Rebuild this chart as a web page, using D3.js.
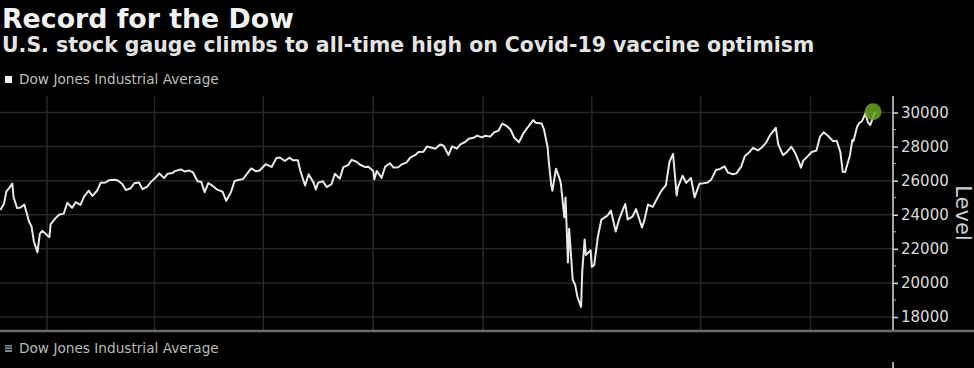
<!DOCTYPE html>
<html>
<head>
<meta charset="utf-8">
<script src="https://d3js.org/d3.v7.min.js"></script>
<style>
  html, body { margin: 0; padding: 0; background: #000; }
  svg { display: block; }
</style>
</head>
<body>
<div id="chart"></div>
<script>
// Chart texts
var titleText = "Record for the Dow";
var subtitleText = "U.S. stock gauge climbs to all-time high on Covid-19 vaccine optimism";
var seriesName = "Dow Jones Industrial Average";
var axisTitle = "Level";

// Y axis ticks
var yTicks = [18000, 20000, 22000, 24000, 26000, 28000, 30000];
var yMinorTicks = [19000, 21000, 23000, 25000, 27000, 29000];

// Vertical grid lines (quarter starts)
var quarterDates = ["2019-01-01", "2019-04-01", "2019-07-01", "2019-10-01",
                    "2020-01-01", "2020-04-01", "2020-07-01", "2020-10-01"];

// Dow Jones Industrial Average
var dates = [
  "2018-11-23","2018-11-26","2018-11-28","2018-11-30","2018-12-03","2018-12-04","2018-12-07","2018-12-10",
  "2018-12-13","2018-12-17","2018-12-19","2018-12-21","2018-12-24","2018-12-26","2018-12-28",
  "2019-01-03","2019-01-04","2019-01-08","2019-01-11","2019-01-15","2019-01-18","2019-01-22","2019-01-25",
  "2019-01-29","2019-02-01","2019-02-05","2019-02-08","2019-02-12","2019-02-15","2019-02-19","2019-02-22",
  "2019-02-26","2019-03-01","2019-03-05","2019-03-08","2019-03-12","2019-03-15","2019-03-19","2019-03-22",
  "2019-03-26","2019-03-29","2019-04-02","2019-04-05","2019-04-09","2019-04-12","2019-04-16","2019-04-18",
  "2019-04-23","2019-04-26","2019-04-30","2019-05-03","2019-05-07","2019-05-10","2019-05-13","2019-05-16",
  "2019-05-20","2019-05-23","2019-05-28","2019-05-31","2019-06-04","2019-06-07","2019-06-11","2019-06-14",
  "2019-06-18","2019-06-21","2019-06-25","2019-06-28","2019-07-03","2019-07-08","2019-07-12","2019-07-15",
  "2019-07-19","2019-07-23","2019-07-26","2019-07-30","2019-08-01","2019-08-05","2019-08-08","2019-08-12",
  "2019-08-14","2019-08-16","2019-08-20","2019-08-23","2019-08-27","2019-08-30","2019-09-03","2019-09-06",
  "2019-09-10","2019-09-13","2019-09-17","2019-09-20","2019-09-24","2019-09-27","2019-10-01","2019-10-02",
  "2019-10-04","2019-10-08","2019-10-11","2019-10-15","2019-10-18","2019-10-22","2019-10-25","2019-10-29",
  "2019-11-01","2019-11-05","2019-11-08","2019-11-12","2019-11-15","2019-11-19","2019-11-22","2019-11-26",
  "2019-11-29","2019-12-03","2019-12-06","2019-12-10","2019-12-13","2019-12-17","2019-12-20","2019-12-24",
  "2019-12-27","2019-12-31",
  "2020-01-03","2020-01-07","2020-01-10","2020-01-14","2020-01-17","2020-01-21","2020-01-24","2020-01-27",
  "2020-01-31","2020-02-04","2020-02-07","2020-02-12","2020-02-14","2020-02-19","2020-02-21","2020-02-24",
  "2020-02-25","2020-02-27","2020-02-28","2020-03-02","2020-03-05","2020-03-06","2020-03-09","2020-03-10",
  "2020-03-12","2020-03-13","2020-03-16","2020-03-18","2020-03-20","2020-03-23","2020-03-24","2020-03-26",
  "2020-03-27","2020-03-31","2020-04-01","2020-04-03","2020-04-06","2020-04-09","2020-04-14","2020-04-17",
  "2020-04-21","2020-04-24","2020-04-29","2020-05-01","2020-05-05","2020-05-08","2020-05-13","2020-05-15",
  "2020-05-18","2020-05-22","2020-05-26","2020-05-29","2020-06-02","2020-06-05","2020-06-08","2020-06-11",
  "2020-06-12","2020-06-16","2020-06-19","2020-06-23","2020-06-26","2020-06-30","2020-07-02","2020-07-07",
  "2020-07-10","2020-07-14","2020-07-17","2020-07-21","2020-07-24","2020-07-28","2020-07-31","2020-08-04",
  "2020-08-07","2020-08-11","2020-08-14","2020-08-18","2020-08-21","2020-08-25","2020-08-28","2020-09-02",
  "2020-09-04","2020-09-08","2020-09-11","2020-09-15","2020-09-18","2020-09-21","2020-09-23","2020-09-25",
  "2020-09-29","2020-10-02","2020-10-06","2020-10-09","2020-10-12","2020-10-16","2020-10-20","2020-10-23",
  "2020-10-26","2020-10-28","2020-10-30","2020-11-03","2020-11-05","2020-11-06","2020-11-09","2020-11-11",
  "2020-11-13","2020-11-16","2020-11-18","2020-11-20","2020-11-24"
];
var levels = [
  24286,24640,25366,25538,25826,25027,24389,24423,
  24597,23592,23323,22445,21792,22878,23062,
  22686,23433,23787,23996,24065,24706,24404,24737,
  24579,25064,25411,25106,25425,25883,25891,26031,
  26057,26026,25806,25450,25554,25849,25887,25502,
  25657,25929,26179,26425,26150,26412,26452,26559,
  26656,26543,26592,26505,25965,25942,25324,25862,
  25679,25490,25347,24815,25332,25984,26048,26090,
  26465,26719,26548,26600,26966,26806,27332,27359,
  27154,27349,27192,27198,26583,25718,26378,25897,
  25480,25886,25963,25628,25778,26403,26118,26797,
  26909,27219,27111,26935,26808,26820,26573,26078,
  26573,26164,26817,27025,26770,26788,26958,27071,
  27347,27493,27681,27691,28005,27934,27876,28122,
  28051,27503,28015,27881,28135,28268,28455,28516,
  28645,28538,
  28634,28584,28824,28940,29348,29197,28989,28535,
  28256,28808,29102,29551,29398,29348,28992,27961,
  27081,25767,25409,26703,26121,25864,23851,25018,
  21200,23185,20189,19899,19174,18592,20705,22552,
  21637,21917,20943,21053,22680,23719,23949,24242,
  23019,23775,24634,23724,23883,24331,23248,23685,
  24597,24465,24995,25383,25742,27111,27572,25128,
  25606,26290,25871,26156,25016,25813,25827,25890,
  26075,26643,26672,26840,26470,26379,26428,26828,
  27433,27687,27931,27778,27930,28249,28654,29100,
  28133,27500,27666,27995,27657,27147,26763,27174,
  27453,27683,27773,28587,28837,28606,28309,28336,
  27685,26520,26502,27480,28390,28323,29158,29398,
  29480,29950,29438,29263,30046
];

var width = 974, height = 368;
var parseDate = d3.timeParse("%Y-%m-%d");

var data = dates.map(function (d, i) { return { date: parseDate(d), value: levels[i] }; });

var svg = d3.select("#chart").append("svg")
    .attr("width", width)
    .attr("height", height)
    .style("background", "#000");

// Scales
var xScale = d3.scaleTime()
    .domain([parseDate("2019-01-01"), parseDate("2020-11-24")])
    .range([47, 875]);
var yScale = d3.scaleLinear().domain([18000, 30000]).range([317, 112.5]);

var plotTop = 96, plotBottom = 330, axisX = 893;

// Shrink or grow a text so it spans the wanted width
function fitWidth(sel, target) {
    var size = +sel.attr("font-size");
    var w = sel.node().getComputedTextLength();
    if (w > 0) sel.attr("font-size", (size * target / w).toFixed(2));
}

// Title and subtitle
var title = svg.append("text")
    .attr("x", 2).attr("y", 28)
    .attr("font-family", "DejaVu Sans")
    .attr("font-weight", "bold")
    .attr("font-size", 26)
    .attr("fill", "#f2f2f2")
    .text(titleText);
fitWidth(title, 292);

var subtitle = svg.append("text")
    .attr("x", 2).attr("y", 52)
    .attr("font-family", "DejaVu Sans")
    .attr("font-weight", "bold")
    .attr("font-size", 19)
    .attr("fill", "#e4e4e4")
    .text(subtitleText);
fitWidth(subtitle, 813);

// Top legend
svg.append("rect")
    .attr("x", 5).attr("y", 76).attr("width", 7).attr("height", 7)
    .attr("fill", "#f0f0f0");
var legendTop = svg.append("text")
    .attr("x", 19).attr("y", 84)
    .attr("font-family", "DejaVu Sans")
    .attr("font-size", 12)
    .attr("fill", "#bdbdbd")
    .text(seriesName);
fitWidth(legendTop, 200);

// Horizontal grid
svg.selectAll(".hgrid")
    .data(yTicks)
    .join("line")
    .attr("class", "hgrid")
    .attr("x1", 0).attr("x2", axisX)
    .attr("y1", d => yScale(d)).attr("y2", d => yScale(d))
    .attr("stroke", "#2b2622")
    .attr("stroke-width", 1.5);

// Vertical grid
svg.selectAll(".vgrid")
    .data(quarterDates.map(parseDate))
    .join("line")
    .attr("class", "vgrid")
    .attr("x1", d => xScale(d)).attr("x2", d => xScale(d))
    .attr("y1", plotTop).attr("y2", plotBottom)
    .attr("stroke", "#2b2622")
    .attr("stroke-width", 1.5);

// Bottom axis line
svg.append("line")
    .attr("x1", 0).attr("x2", width)
    .attr("y1", 331).attr("y2", 331)
    .attr("stroke", "#6f6a66")
    .attr("stroke-width", 2.5);

// Right axis
var yAxis = d3.axisRight(yScale)
    .tickValues(yTicks)
    .tickSize(5)
    .tickPadding(3)
    .tickFormat(d3.format("d"));

var yAxisG = svg.append("g")
    .attr("transform", "translate(" + axisX + ",0)")
    .call(yAxis);
yAxisG.select(".domain").remove();
yAxisG.selectAll("line").attr("stroke", "#d8d8d8").attr("stroke-width", 1.5);
yAxisG.selectAll("text")
    .attr("fill", "#dcdcdc")
    .attr("font-family", "DejaVu Sans")
    .attr("font-size", 15);

svg.append("line")
    .attr("x1", axisX).attr("x2", axisX)
    .attr("y1", plotTop).attr("y2", plotBottom)
    .attr("stroke", "#d8d8d8")
    .attr("stroke-width", 1.5);

svg.selectAll(".minor")
    .data(yMinorTicks)
    .join("line")
    .attr("class", "minor")
    .attr("x1", axisX).attr("x2", axisX + 3)
    .attr("y1", d => yScale(d)).attr("y2", d => yScale(d))
    .attr("stroke", "#bcbcbc")
    .attr("stroke-width", 1);

// Axis title
svg.append("text")
    .attr("transform", "translate(956,213) rotate(90)")
    .attr("text-anchor", "middle")
    .attr("font-family", "DejaVu Sans")
    .attr("font-size", 21)
    .attr("fill", "#cfcfcf")
    .text(axisTitle);

// The line
var line = d3.line()
    .x(d => xScale(d.date))
    .y(d => yScale(d.value));

svg.append("path")
    .datum(data)
    .attr("d", line)
    .attr("fill", "none")
    .attr("stroke", "#e9e9e9")
    .attr("stroke-width", 2)
    .attr("stroke-linejoin", "round");

// Marker at the latest value
var last = data[data.length - 1];
svg.append("circle")
    .attr("cx", xScale(last.date) - 2)
    .attr("cy", yScale(last.value))
    .attr("r", 8.5)
    .attr("fill", "#6aa623")
    .attr("fill-opacity", 0.85);

// Bottom legend
var icon = svg.append("g").attr("transform", "translate(5,345)");
icon.append("rect").attr("width", 7).attr("height", 7).attr("fill", "#7d8a96");
icon.selectAll(".hatch")
    .data([2, 4.5])
    .join("line")
    .attr("x1", 0).attr("x2", 7)
    .attr("y1", d => d).attr("y2", d => d)
    .attr("stroke", "#000").attr("stroke-width", 0.8);

var legendBottom = svg.append("text")
    .attr("x", 19).attr("y", 353)
    .attr("font-family", "DejaVu Sans")
    .attr("font-size", 12)
    .attr("fill", "#bababa")
    .text(seriesName);
fitWidth(legendBottom, 200);

// Small tick below
svg.append("line")
    .attr("x1", axisX).attr("x2", axisX)
    .attr("y1", 362).attr("y2", 368)
    .attr("stroke", "#d8d8d8")
    .attr("stroke-width", 1.5);
</script>
</body>
</html>
